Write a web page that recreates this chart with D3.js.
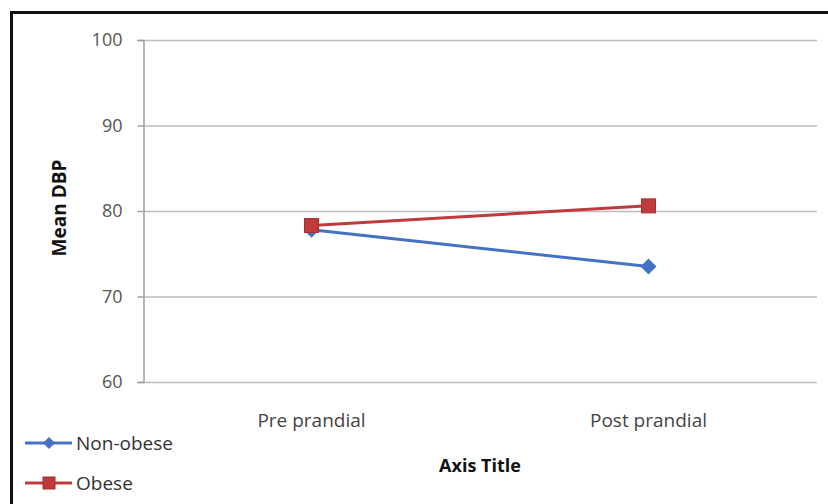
<!DOCTYPE html>
<html>
<head>
<meta charset="utf-8">
<script src="https://cdn.jsdelivr.net/npm/d3@7/dist/d3.min.js"></script>
<style>
  html, body { margin: 0; padding: 0; background: #fff; }
  svg { display: block; font-family: "Open Sans", "Liberation Sans", sans-serif; }
</style>
</head>
<body>
<svg id="chart" width="828" height="504"></svg>
<script>
// Mean diastolic blood pressure before and after a meal
const categories = ["Pre prandial", "Post prandial"];
const seriesNames = ["Non-obese", "Obese"];
const nonObese = [77.8, 73.5];
const obese = [78.3, 80.6];
const yTicks = [60, 70, 80, 90, 100];
const colors = ["#4472C4", "#C0393B"];

const svg = d3.select("#chart");

// outer frame (left and top edges)
svg.append("path")
  .attr("d", "M11.5,504 V12.5 H828")
  .attr("fill", "none")
  .attr("stroke", "#111")
  .attr("stroke-width", 3);

const plot = { left: 143, right: 817, top: 40, bottom: 382 };

const x = d3.scaleBand().domain(categories).range([plot.left, plot.right]);
const y = d3.scaleLinear().domain([60, 100]).range([plot.bottom, plot.top]);

// horizontal gridlines
svg.append("g")
  .selectAll("line")
  .data(yTicks)
  .join("line")
  .attr("x1", plot.left)
  .attr("x2", plot.right)
  .attr("y1", d => y(d) + 0.5)
  .attr("y2", d => y(d) + 0.5)
  .attr("stroke", "#bdbdbd")
  .attr("stroke-width", 1.5);

// y axis
const yAxis = svg.append("g")
  .attr("transform", `translate(${plot.left + 0.5},0)`)
  .call(d3.axisLeft(y).tickValues(yTicks).tickSize(6).tickPadding(15));
yAxis.select(".domain").attr("stroke", "#a0a0a0").attr("stroke-width", 1.5);
yAxis.selectAll(".tick line").attr("stroke", "#a0a0a0").attr("stroke-width", 1.5);
yAxis.selectAll(".tick text")
  .attr("fill", "#555")
  .style("font-size", "18px")
  .style("font-family", "'Open Sans', 'Liberation Sans', sans-serif");

// category labels
svg.append("g")
  .selectAll("text")
  .data(categories)
  .join("text")
  .attr("x", d => x(d) + x.bandwidth() / 2)
  .attr("y", 427)
  .attr("text-anchor", "middle")
  .attr("fill", "#444")
  .style("font-size", "19px")
  .text(d => d);

// axis titles
svg.append("text")
  .attr("x", 480)
  .attr("y", 472)
  .attr("text-anchor", "middle")
  .attr("font-weight", "bold")
  .attr("fill", "#111")
  .style("font-size", "18px")
  .text("Axis Title");

svg.append("text")
  .attr("transform", "translate(66,208) rotate(-90)")
  .attr("text-anchor", "middle")
  .attr("font-weight", "bold")
  .attr("fill", "#111")
  .style("font-size", "19px")
  .text("Mean DBP");

// series lines and markers
const series = [
  { name: seriesNames[0], values: nonObese, color: colors[0], marker: "diamond" },
  { name: seriesNames[1], values: obese, color: colors[1], marker: "square" }
];

const line = d3.line()
  .x((d, i) => x(categories[i]) + x.bandwidth() / 2)
  .y(d => y(d));

function drawMarker(g, type, cx, cy, color, r) {
  if (type === "diamond") {
    g.append("path")
      .attr("d", `M0,${-r} L${r},0 L0,${r} L${-r},0 Z`)
      .attr("transform", `translate(${cx},${cy})`)
      .attr("fill", color);
  } else {
    g.append("rect")
      .attr("x", cx - r).attr("y", cy - r)
      .attr("width", 2 * r).attr("height", 2 * r)
      .attr("fill", color)
      .attr("stroke", "#a83030")
      .attr("stroke-width", 1);
  }
}

series.forEach(s => {
  const g = svg.append("g");
  g.append("path")
    .datum(s.values)
    .attr("d", line)
    .attr("fill", "none")
    .attr("stroke", s.color)
    .attr("stroke-width", 3);
  s.values.forEach((v, i) => {
    drawMarker(g, s.marker, x(categories[i]) + x.bandwidth() / 2, y(v), s.color,
      s.marker === "diamond" ? 8 : 7);
  });
});

// legend
const legend = svg.append("g");
series.forEach((s, i) => {
  const ly = 443 + i * 40;
  legend.append("line")
    .attr("x1", 25).attr("x2", 72)
    .attr("y1", ly).attr("y2", ly)
    .attr("stroke", s.color)
    .attr("stroke-width", 3);
  drawMarker(legend, s.marker, 49, ly, s.color, s.marker === "diamond" ? 6 : 6);
  legend.append("text")
    .attr("x", 76)
    .attr("y", ly + 7)
    .attr("fill", "#333")
    .style("font-size", "19px")
    .text(s.name);
});
</script>
</body>
</html>
